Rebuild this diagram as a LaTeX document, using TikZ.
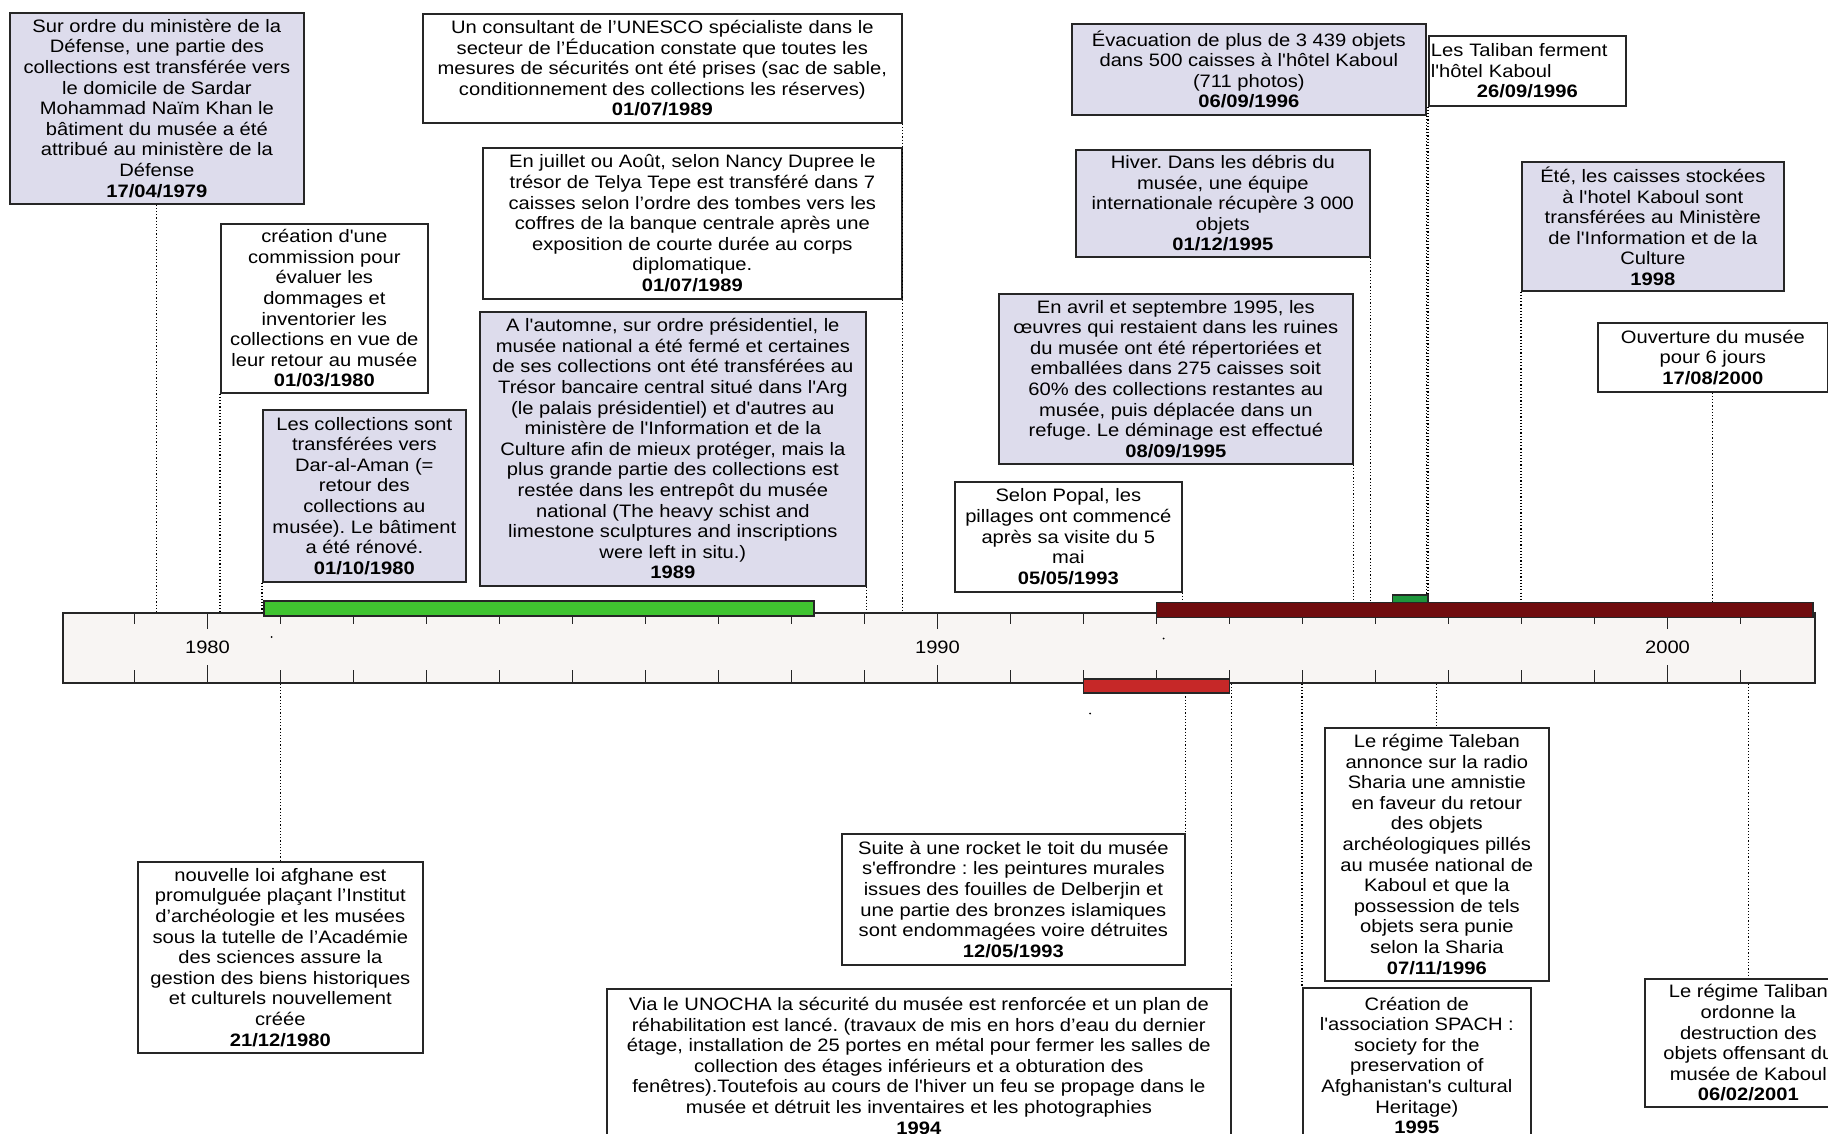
\documentclass[tikz,border=0pt]{standalone}
\usepackage{fontspec}
\newfontfamily\evfont{Liberation Sans}[FakeStretch=1.12]
\definecolor{lav}{RGB}{221,220,236}
\definecolor{axisfill}{RGB}{248,245,243}
\definecolor{bargreen}{RGB}{64,196,48}
\definecolor{bardark}{RGB}{112,12,14}
\definecolor{barsmall}{RGB}{30,150,60}
\definecolor{barred}{RGB}{198,40,40}
\tikzset{
  ev/.style={draw=black!85, line width=0.85pt, inner sep=0pt, anchor=north west, align=center,
    font={\evfont\frenchspacing\fontsize{9pt}{10.3pt}\selectfont}},
  lav/.style={ev, fill=lav},
  wht/.style={ev, fill=white},
  conn/.style={densely dotted, line width=0.6pt},
  tickline/.style={line width=0.55pt, black!85},
  yearlab/.style={font={\evfont\fontsize{9pt}{10.3pt}\selectfont}, inner sep=0pt},
  barbox/.style={draw=black!85, line width=0.6pt},
}
\newcommand\evbox[7]{%
  \pgfmathsetmacro\evW{(#4-#2)*0.5}%
  \pgfmathsetmacro\evH{(#5-#3)*0.5}%
  \node[#6, minimum width=\evW pt, minimum height=\evH pt] (#1) at (#2,#3) {#7};}
\begin{document}
\begin{tikzpicture}[x=0.5pt,y=-0.5pt]
\useasboundingbox (0,0) rectangle (1828,1134);
\fill[white] (0,0) rectangle (1828,1134);
% axis (defined first for connector targets)
\node[draw=black!85, line width=0.8pt, fill=axisfill, minimum width=876pt, minimum height=35pt,
      anchor=north west, inner sep=0pt] (axis) at (62,612) {};
% boxes above
\evbox{b1979}{9}{12}{303}{203}{lav}{Sur ordre du ministère de la\\Défense, une partie des\\collections est transférée vers\\le domicile de Sardar\\Mohammad Naïm Khan le\\bâtiment du musée a été\\attribué au ministère de la\\Défense\\\textbf{17/04/1979}}
\evbox{b1980a}{220}{223}{427}{392}{wht}{création d'une\\commission pour\\évaluer les\\dommages et\\inventorier les\\collections en vue de\\leur retour au musée\\\textbf{01/03/1980}}
\evbox{b1980b}{262}{409}{465}{581}{lav}{Les collections sont\\transférées vers\\Dar-al-Aman (=\\retour des\\collections au\\musée). Le bâtiment\\a été rénové.\\\textbf{01/10/1980}}
\evbox{b1989a}{422}{13}{901}{122}{wht}{Un consultant de l’UNESCO spécialiste dans le\\secteur de l’Éducation constate que toutes les\\mesures de sécurités ont été prises (sac de sable,\\conditionnement des collections les réserves)\\\textbf{01/07/1989}}
\evbox{b1989b}{482}{147}{901}{298}{wht}{En juillet ou Août, selon Nancy Dupree le\\trésor de Telya Tepe est transféré dans 7\\caisses selon l’ordre des tombes vers les\\coffres de la banque centrale après une\\exposition de courte durée au corps\\diplomatique.\\\textbf{01/07/1989}}
\evbox{b1989c}{479}{311}{865}{585}{lav}{A l'automne, sur ordre présidentiel, le\\musée national a été fermé et certaines\\de ses collections ont été transférées au\\Trésor bancaire central situé dans l'Arg\\(le palais présidentiel) et d'autres au\\ministère de l'Information et de la\\Culture afin de mieux protéger, mais la\\plus grande partie des collections est\\restée dans les entrepôt du musée\\national (The heavy schist and\\limestone sculptures and inscriptions\\were left in situ.)\\\textbf{1989}}
\evbox{b1993a}{954}{481}{1181}{591}{wht}{Selon Popal, les\\pillages ont commencé\\après sa visite du 5\\mai\\\textbf{05/05/1993}}
\evbox{b1995a}{998}{293}{1352}{463}{lav}{En avril et septembre 1995, les\\œuvres qui restaient dans les ruines\\du musée ont été répertoriées et\\emballées dans 275 caisses soit\\60\% des collections restantes au\\musée, puis déplacée dans un\\refuge. Le déminage est effectué\\\textbf{08/09/1995}}
\evbox{b1995b}{1075}{149}{1369}{256}{lav}{Hiver. Dans les débris du\\musée, une équipe\\internationale récupère 3 000\\objets\\\textbf{01/12/1995}}
\evbox{b1996a}{1071}{23}{1425}{114}{lav}{Évacuation de plus de 3 439 objets\\dans 500 caisses à l'hôtel Kaboul\\(711 photos)\\\textbf{06/09/1996}}
\node[wht, align=left, inner xsep=1pt, text width=96.5pt, minimum width=98.5pt, minimum height=35pt] (b1996b) at (1428,35)
  {Les Taliban ferment\\l'hôtel Kaboul\\\makebox[96.5pt]{\textbf{26/09/1996}}};
\evbox{b1998}{1521}{161}{1783}{290}{lav}{Été, les caisses stockées\\à l'hotel Kaboul sont\\transférées au Ministère\\de l'Information et de la\\Culture\\\textbf{1998}}
\evbox{b2000}{1597}{322}{1827}{391}{wht}{Ouverture du musée\\pour 6 jours\\\textbf{17/08/2000}}
% boxes below
\evbox{b1980c}{137}{861}{422}{1052}{wht}{nouvelle loi afghane est\\promulguée plaçant l’Institut\\d’archéologie et les musées\\sous la tutelle de l’Académie\\des sciences assure la\\gestion des biens historiques\\et culturels nouvellement\\créée\\\textbf{21/12/1980}}
\evbox{b1993b}{841}{833}{1184}{964}{wht}{Suite à une rocket le toit du musée\\s'effrondre : les peintures murales\\issues des fouilles de Delberjin et\\une partie des bronzes islamiques\\sont endommagées voire détruites\\\textbf{12/05/1993}}
\evbox{b1994}{606}{988}{1230}{1142}{wht}{Via le UNOCHA la sécurité du musée est renforcée et un plan de\\réhabilitation est lancé. (travaux de mis en hors d’eau du dernier\\étage, installation de 25 portes en métal pour fermer les salles de\\collection des étages inférieurs et a obturation des\\fenêtres).Toutefois au cours de l'hiver un feu se propage dans le\\musée et détruit les inventaires et les photographies\\\textbf{1994}}
\evbox{b1996c}{1324}{727}{1548}{980}{wht}{Le régime Taleban\\annonce sur la radio\\Sharia une amnistie\\en faveur du retour\\des objets\\archéologiques pillés\\au musée national de\\Kaboul et que la\\possession de tels\\objets sera punie\\selon la Sharia\\\textbf{07/11/1996}}
\evbox{b1995c}{1302}{987}{1530}{1142}{wht}{Création de\\l'association SPACH :\\society for the\\preservation of\\Afghanistan's cultural\\Heritage)\\\textbf{1995}}
\evbox{b2001}{1644}{978}{1851}{1106}{wht}{Le régime Taliban\\ordonne la\\destruction des\\objets offensant du\\musée de Kaboul\\\textbf{06/02/2001}}
% connectors above
\draw[conn] (b1979.south) -- (b1979.south |- axis.north);
\draw[conn] (b1980a.south west) -- (b1980a.south west |- axis.north);
\draw[conn] (b1980b.south west) -- (b1980b.south west |- axis.north);
\draw[conn] (b1989a.south east) -- (b1989a.south east |- axis.north);
\draw[conn] (b1989b.south east) -- (b1989b.south east |- axis.north);
\draw[conn] (b1989c.south east) -- (b1989c.south east |- axis.north);
\draw[conn] (b1993a.south east) -- (b1993a.south east |- axis.north);
\draw[conn] (b1995a.south east) -- (b1995a.south east |- axis.north);
\draw[conn] (b1995b.south east) -- (b1995b.south east |- axis.north);
\draw[conn] (b1996a.south east) -- (b1996a.south east |- axis.north);
\draw[conn] (b1996b.south west) -- (b1996b.south west |- axis.north);
\draw[conn] (b1998.south west) -- (b1998.south west |- axis.north);
\draw[conn] (b2000.south) -- (b2000.south |- axis.north);
% connectors below
\draw[conn] (axis.south -| b1980c.north) -- (b1980c.north);
\draw[conn] (axis.south -| b1993b.north east) -- (b1993b.north east);
\draw[conn] (axis.south -| b1994.north east) -- (b1994.north east);
\draw[conn] (axis.south -| b1996c.north) -- (b1996c.north);
\draw[conn] (axis.south -| b1995c.north west) -- (b1995c.north west);
\draw[conn] (axis.south -| b2001.north) -- (b2001.north);
% ticks
\foreach \yr in {1979,...,2001}{
  \pgfmathsetmacro\tx{207.5+73*(\yr-1980)}
  \draw[tickline] (\tx,612) -- (\tx,623.5);
  \draw[tickline] (\tx,682) -- (\tx,670);
}
\foreach \yr in {1980,1990,2000}{
  \pgfmathsetmacro\tx{207.5+73*(\yr-1980)}
  \draw[tickline] (\tx,612) -- (\tx,628.5);
  \draw[tickline] (\tx,682) -- (\tx,664.5);
  \node[yearlab] (y\yr) at (\tx,647) {\yr};
}
% bars
\filldraw[barbox, fill=bargreen] (264,601) rectangle (814,616);
\filldraw[barbox, fill=bardark] (1156.5,602.5) rectangle (1813,617.5);
\filldraw[barbox, fill=barsmall] (1392.5,595) rectangle (1428,602.5);
\filldraw[barbox, fill=barred] (1083.5,679) rectangle (1229.5,693);
% small marks
\fill (271.7,637) circle (1);
\fill (1163.5,638.5) circle (1);
\fill (1090,713.5) circle (1);
\end{tikzpicture}
\end{document}
